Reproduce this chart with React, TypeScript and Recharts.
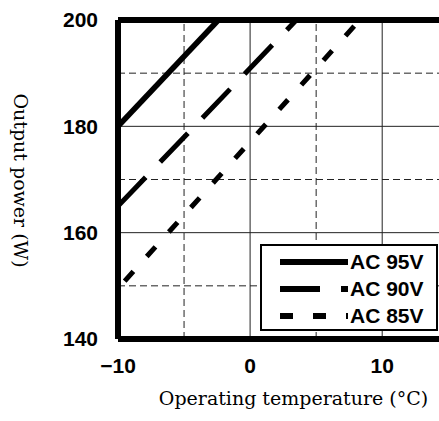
import { LineChart, Line, XAxis, YAxis, ReferenceLine, Legend } from "recharts";

// output power vs operating temperature
const ac95Temp = [-10, -2.4];
const ac95Power = [180, 200];
const ac90Temp = [-10, 3.5];
const ac90Power = [165, 200];
const ac85Temp = [-10, 8.3];
const ac85Power = [149.5, 200];

const seriesNames = ["AC 95V", "AC 90V", "AC 85V"];

const xTicks = [-10, 0, 10];
const yTicks = [140, 160, 180, 200];
const gridSolidX = [0, 10];
const gridDashedX = [-5, 5];
const gridSolidY = [160, 180];
const gridDashedY = [150, 170, 190];

const styles: Record<string, { dash?: string; offset?: number; width: number }> = {
  "AC 95V": { width: 5.5 },
  "AC 90V": { dash: "40 21", width: 5 },
  "AC 85V": { dash: "13 20", offset: 23, width: 5 },
};

const series = [
  { name: seriesNames[0], temps: ac95Temp, power: ac95Power },
  { name: seriesNames[1], temps: ac90Temp, power: ac90Power },
  { name: seriesNames[2], temps: ac85Temp, power: ac85Power },
].map((s) => ({
  ...s,
  data: s.temps.map((t, i) => ({ temp: t, power: s.power[i] })),
}));

const sans = "'Liberation Sans', Arial, sans-serif";
const serif = "'DejaVu Serif', serif";

function formatTick(v: number): string {
  return v < 0 ? `\u2212${Math.abs(v)}` : String(v);
}

function XTitle({ viewBox }: any) {
  const { x, width } = viewBox;
  return (
    <text
      x={x + width / 2 + 15}
      y={405}
      textAnchor="middle"
      fontFamily={serif}
      fontSize={19}
      fill="#000"
    >
      Operating temperature (°C)
    </text>
  );
}

function YTitle({ viewBox }: any) {
  const { y, height } = viewBox;
  const cy = y + height / 2 + 1;
  return (
    <text
      x={21}
      y={cy}
      transform={`rotate(90, 21, ${cy})`}
      textAnchor="middle"
      dominantBaseline="central"
      fontFamily={serif}
      fontSize={19}
      fill="#000"
    >
      Output power (W)
    </text>
  );
}

function LegendBox() {
  return (
    <div
      style={{
        border: "2px solid #000",
        background: "#fff",
        boxSizing: "border-box",
        width: 178,
        height: 87,
        paddingTop: 2,
        paddingLeft: 18,
      }}
    >
      {series.map((s) => (
        <div
          key={s.name}
          style={{ display: "flex", alignItems: "center", height: 27 }}
        >
          <svg width={68} height={10} style={{ display: "block" }}>
            <line
              x1={0}
              y1={5}
              x2={68}
              y2={5}
              stroke="#000"
              strokeWidth={6}
              strokeDasharray={styles[s.name].dash}
            />
          </svg>
          <span
            style={{
              marginLeft: 2,
              fontFamily: sans,
              fontSize: 21,
              fontWeight: "bold",
              lineHeight: "27px",
              color: "#000",
            }}
          >
            {s.name}
          </span>
        </div>
      ))}
    </div>
  );
}

export default function App() {
  return (
    <div
      style={{
        position: "absolute",
        left: 0,
        top: 0,
        width: 439,
        height: 421,
        overflow: "hidden",
        background: "#fff",
      }}
    >
      <LineChart
        width={439}
        height={421}
        margin={{ top: 20, right: 0, bottom: 0, left: 0 }}
      >
        <XAxis
          dataKey="temp"
          type="number"
          domain={[-10, 14.3]}
          allowDataOverflow
          ticks={xTicks}
          interval={0}
          tickFormatter={formatTick}
          height={82}
          tickSize={0}
          tickMargin={19}
          axisLine={false}
          tickLine={false}
          tick={{ fontFamily: sans, fontSize: 21, fontWeight: "bold", fill: "#000" }}
          label={{ content: <XTitle /> }}
        />
        <YAxis
          type="number"
          domain={[140, 200]}
          ticks={yTicks}
          interval={0}
          width={118}
          tickSize={0}
          tickMargin={20}
          axisLine={false}
          tickLine={false}
          tick={{ fontFamily: sans, fontSize: 21, fontWeight: "bold", fill: "#000" }}
          label={{ content: <YTitle /> }}
        />
        {gridSolidX.map((v) => (
          <ReferenceLine key={`sx${v}`} x={v} stroke="#222" strokeWidth={1} />
        ))}
        {gridDashedX.map((v) => (
          <ReferenceLine
            key={`dx${v}`}
            x={v}
            stroke="#222"
            strokeWidth={1}
            strokeDasharray="7 4"
          />
        ))}
        {gridSolidY.map((v) => (
          <ReferenceLine key={`sy${v}`} y={v} stroke="#222" strokeWidth={1} />
        ))}
        {gridDashedY.map((v) => (
          <ReferenceLine
            key={`dy${v}`}
            y={v}
            stroke="#222"
            strokeWidth={1}
            strokeDasharray="7 4"
          />
        ))}
        {series.map((s) => (
          <Line
            key={s.name}
            name={s.name}
            data={s.data}
            dataKey="power"
            type="linear"
            stroke="#000"
            strokeWidth={styles[s.name].width}
            strokeDasharray={styles[s.name].dash}
            strokeDashoffset={styles[s.name].offset}
            dot={false}
            activeDot={false}
            isAnimationActive={false}
          />
        ))}
        <ReferenceLine x={-10} stroke="#000" strokeWidth={6} />
        <ReferenceLine y={200} stroke="#000" strokeWidth={6} />
        <ReferenceLine y={140} stroke="#000" strokeWidth={6} />
        <Legend
          layout="vertical"
          align="center"
          verticalAlign="middle"
          content={<LegendBox />}
          wrapperStyle={{ left: 260, top: 244, width: 178, height: 87 }}
        />
      </LineChart>
    </div>
  );
}
